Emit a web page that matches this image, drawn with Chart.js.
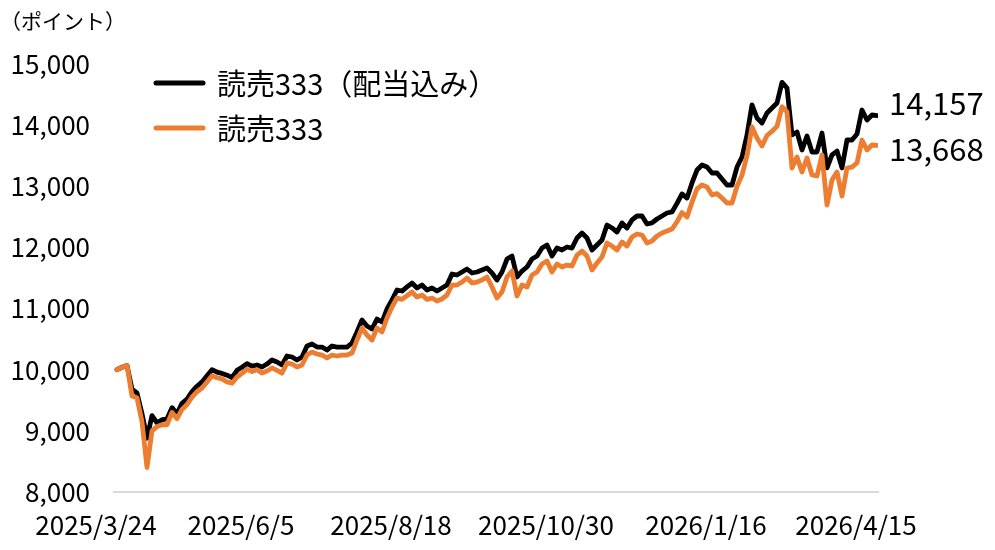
<!DOCTYPE html>
<html>
<head>
<meta charset="utf-8">
<script src="https://cdn.jsdelivr.net/npm/chart.js@4.4.1/dist/chart.umd.min.js"></script>
<style>
  body { margin: 0; background: #fff; }
  #wrap { width: 995px; height: 550px; }
</style>
</head>
<body>
<div id="wrap"><canvas id="myChart"></canvas></div>
<script>
// Series names
const seriesNames = ['読売333（配当込み）', '読売333'];

// 読売333（配当込み） (dividends included), one value per step
const totalReturn = [
  10000, 10040, 10070, 9680, 9620, 9280, 8880, 9250, 9130, 9180,
  9200, 9380, 9280, 9450, 9520, 9640, 9730, 9800, 9900, 10000,
  9960, 9940, 9910, 9870, 9990, 10040, 10100, 10060, 10077, 10044,
  10093, 10160, 10126, 10077, 10224, 10208, 10159, 10208, 10388, 10420,
  10371, 10371, 10322, 10388, 10371, 10371, 10371, 10437, 10617, 10813,
  10715, 10666, 10829, 10780, 10993, 11140, 11304, 11287, 11353, 11418,
  11336, 11385, 11304, 11336, 11287, 11336, 11385, 11565, 11549, 11598,
  11647, 11582, 11598, 11631, 11663, 11582, 11467, 11598, 11810, 11860,
  11516, 11614, 11680, 11810, 11860, 11990, 12040, 11860, 11990, 11958,
  12007, 11990, 12154, 12236, 12154, 11958, 12040, 12121, 12367, 12318,
  12252, 12400, 12318, 12449, 12514, 12514, 12383, 12400, 12465, 12514,
  12563, 12580, 12720, 12874, 12808, 13054, 13266, 13348, 13315, 13217,
  13217, 13119, 13021, 13021, 13315, 13479, 13839, 14330, 14117, 14035,
  14199, 14280, 14362, 14700, 14607, 13839, 13888, 13594, 13823, 13561,
  13561, 13871, 13300, 13512, 13577, 13300, 13757, 13757, 13855, 14248,
  14084, 14166, 14157
];

// 読売333 (price index)
const priceIndex = [
  10000, 10040, 10070, 9570, 9540, 9150, 8400, 9000, 9070, 9100,
  9100, 9300, 9200, 9350, 9430, 9550, 9640, 9700, 9800, 9900,
  9870, 9850, 9800, 9780, 9880, 9940, 10010, 9970, 10000, 9946,
  9979, 10028, 9990, 9946, 10110, 10093, 10044, 10077, 10240, 10290,
  10257, 10240, 10191, 10240, 10224, 10240, 10240, 10273, 10486, 10682,
  10568, 10486, 10682, 10617, 10846, 11026, 11173, 11150, 11210, 11271,
  11189, 11222, 11150, 11173, 11124, 11157, 11222, 11385, 11385, 11434,
  11500, 11418, 11434, 11467, 11516, 11353, 11173, 11271, 11516, 11614,
  11206, 11385, 11353, 11549, 11598, 11729, 11778, 11598, 11729, 11680,
  11712, 11696, 11876, 11941, 11860, 11631, 11745, 11843, 12072, 12023,
  11958, 12089, 12023, 12170, 12220, 12203, 12072, 12105, 12187, 12236,
  12268, 12301, 12420, 12570, 12497, 12740, 12956, 13021, 12988, 12857,
  12880, 12808, 12727, 12727, 13000, 13180, 13500, 13970, 13790, 13660,
  13830, 13900, 13980, 14300, 14220, 13299, 13479, 13234, 13463, 13185,
  13168, 13512, 12694, 13103, 13234, 12840, 13299, 13315, 13381, 13757,
  13594, 13675, 13668
];

// x axis date labels and the step they sit under
const tickDates = ['2025/3/24', '2025/6/5', '2025/8/18', '2025/10/30', '2026/1/16', '2026/4/15'];
const tickIndex = [0, 29, 59, 90, 122, 152];

// y axis range
const yMin = 8000, yMax = 15000, yStep = 1000;

const FONT = '"Noto Sans CJK JP", "Noto Sans", sans-serif';
Chart.defaults.font.family = FONT;
Chart.defaults.color = '#000';

const fmt = v => Number(v).toLocaleString('en-US');

// legend, unit label and end values drawn on the canvas
const extras = {
  id: 'extras',
  afterDraw(chart) {
    const ctx = chart.ctx;
    const xs = chart.scales.x, ys = chart.scales.y;
    const colors = ['#000000', '#ED7D31'];
    ctx.save();
    // unit
    ctx.fillStyle = '#000';
    ctx.font = '21px ' + FONT;
    ctx.textBaseline = 'middle';
    ctx.textAlign = 'left';
    ctx.fillText('（ポイント）', 0, 21);
    // legend
    const rows = [83, 128];
    seriesNames.forEach((name, i) => {
      ctx.strokeStyle = colors[i];
      ctx.lineWidth = 5;
      ctx.lineCap = 'round';
      ctx.beginPath();
      ctx.moveTo(156, rows[i]);
      ctx.lineTo(203, rows[i]);
      ctx.stroke();
      ctx.fillStyle = '#000';
      ctx.font = '29px ' + FONT;
      ctx.fillText(name, 217, rows[i] + 1);
    });
    // end labels
    const last = totalReturn.length - 1;
    const xEnd = xs.getPixelForValue(last) + 12;
    ctx.font = '31px ' + FONT;
    ctx.fillText(fmt(totalReturn[last]), xEnd, ys.getPixelForValue(totalReturn[last]) - 12);
    ctx.fillText(fmt(priceIndex[last]), xEnd, ys.getPixelForValue(priceIndex[last]) + 4);
    ctx.restore();
  }
};

const ctx = document.getElementById('myChart').getContext('2d');
const myChart = new Chart(ctx, {
  type: 'line',
  data: {
    datasets: [
      {
        label: seriesNames[0],
        data: totalReturn.map((v, i) => ({ x: i, y: v })),
        borderColor: '#000000',
        borderWidth: 4.8,
        order: 1
      },
      {
        label: seriesNames[1],
        data: priceIndex.map((v, i) => ({ x: i, y: v })),
        borderColor: '#ED7D31',
        borderWidth: 4.8,
        order: 0
      }
    ]
  },
  options: {
    responsive: true,
    maintainAspectRatio: false,
    animation: false,
    elements: {
      point: { radius: 0 },
      line: { tension: 0, borderJoinStyle: 'round', borderCapStyle: 'round' }
    },
    layout: { padding: { top: 64, right: 117, left: 0, bottom: 0 } },
    plugins: { legend: { display: false }, tooltip: { enabled: false } },
    scales: {
      x: {
        type: 'linear',
        min: -0.6,
        max: 152.2,
        grid: { display: false, drawTicks: false },
        border: { display: true, color: '#d9d9d9', width: 2 },
        afterBuildTicks: s => { s.ticks = tickIndex.map(v => ({ value: v })); },
        afterFit: s => { s.height = 58; },
        ticks: {
          autoSkip: false,
          maxRotation: 0,
          padding: 18,
          labelOffset: -21,
          font: { size: 26 },
          color: '#000',
          callback: v => tickDates[tickIndex.indexOf(v)]
        }
      },
      y: {
        min: yMin,
        max: yMax,
        grid: { display: false, drawTicks: false },
        border: { display: false },
        afterFit: s => { s.width = 114; },
        ticks: {
          stepSize: yStep,
          padding: 24,
          font: { size: 26 },
          color: '#000',
          callback: v => fmt(v)
        }
      }
    }
  },
  plugins: [extras]
});
</script>
</body>
</html>
